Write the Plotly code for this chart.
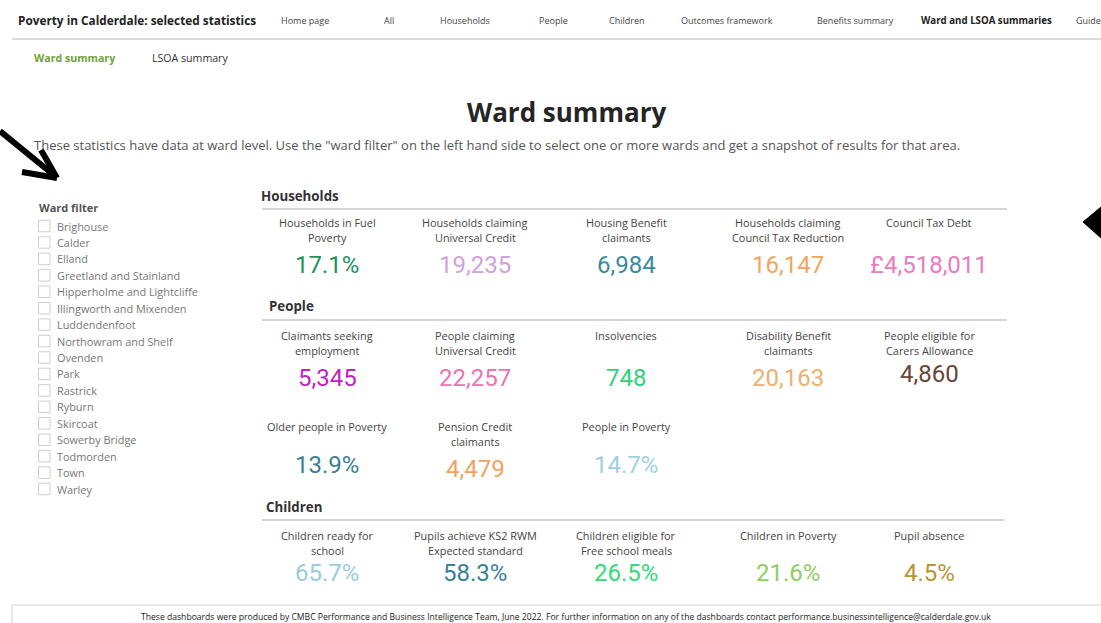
import plotly.graph_objects as go

W, H = 1101, 623

nav_items = ["Home page", "All", "Households", "People", "Children",
             "Outcomes framework", "Benefits summary", "Ward and LSOA summaries"]
nav_x = [305, 389, 465, 553, 627, 727, 855, 986]

wards = ["Brighouse", "Calder", "Elland", "Greetland and Stainland",
         "Hipperholme and Lightcliffe", "Illingworth and Mixenden", "Luddendenfoot",
         "Northowram and Shelf", "Ovenden", "Park", "Rastrick", "Ryburn", "Skircoat",
         "Sowerby Bridge", "Todmorden", "Town", "Warley"]

# KPI cards: label, value, colour
hh_labels = ["Households in Fuel<br>Poverty", "Households claiming<br>Universal Credit",
             "Housing Benefit<br>claimants", "Households claiming<br>Council Tax Reduction",
             "Council Tax Debt"]
hh_values = ["17.1%", "19,235", "6,984", "16,147", "£4,518,011"]
hh_colors = ["#22915a", "#cfa3d9", "#3b8a9c", "#f0a75c", "#e87cc0"]

people_labels = ["Claimants seeking<br>employment", "People claiming<br>Universal Credit",
                 "Insolvencies", "Disability Benefit<br>claimants",
                 "People eligible for<br>Carers Allowance",
                 "Older people in Poverty", "Pension Credit<br>claimants", "People in Poverty"]
people_values = ["5,345", "22,257", "748", "20,163", "4,860", "13.9%", "4,479", "14.7%"]
people_colors = ["#c21fc2", "#ea72b5", "#2fd27a", "#eeb070", "#6a4636",
                 "#3a7f96", "#f0a35e", "#9fd0e1"]

child_labels = ["Children ready for<br>school", "Pupils achieve KS2 RWM<br>Expected standard",
                "Children eligible for<br>Free school meals", "Children in Poverty",
                "Pupil absence"]
child_values = ["65.7%", "58.3%", "26.5%", "21.6%", "4.5%"]
child_colors = ["#9acbde", "#3a7f96", "#2fdc78", "#8ccf5f", "#b8952e"]

col_x = [327, 475, 626, 788, 929]

FONT = "Open Sans"
NUM_FONT = "Roboto"

fig = go.Figure()
ann = []
shapes = []


def text(x, y, s, size, color="#333", bold=False, anchor="left", font=FONT):
    ann.append(dict(x=x, y=y, text=f"<b>{s}</b>" if bold else s, showarrow=False,
                    xanchor=anchor, yanchor="middle",
                    font=dict(family=font, size=size, color=color)))


def hline(x0, x1, y, color="#d6d6d6", width=2):
    shapes.append(dict(type="line", x0=x0, x1=x1, y0=y, y1=y,
                       line=dict(color=color, width=width)))


# header bar
text(16, 20, "Poverty in Calderdale: selected statistics", 11.8, "#222", bold=True)
for name, x in zip(nav_items, nav_x):
    bold = name == "Ward and LSOA summaries"
    text(x, 20, name, 9.7 if bold else 9, "#222" if bold else "#444", bold=bold, anchor="center")
text(1074, 20, "Guide", 9, "#444")  # cut off at the page edge, as in the original
hline(12, W, 39, "#dcdcdc", 2)
text(32, 58, "Ward summary", 10.6, "#6ea23a", bold=True)
text(150, 58, "LSOA summary", 10.6, "#333")

# title and intro
text(566, 112, "Ward summary", 26, "#252525", bold=True, anchor="center")
text(32, 145, "These statistics have data at ward level. Use the \"ward filter\" on the left hand side "
     "to select one or more wards and get a snapshot of results for that area.", 13, "#555")

# ward filter
text(37, 207, "Ward filter", 11, "#555", bold=True)
for i, w in enumerate(wards):
    y = 226 + i * 16.44
    shapes.append(dict(type="rect", x0=38.5, x1=50, y0=y - 5.75, y1=y + 5.75,
                       line=dict(color="#cfcfcf", width=1), fillcolor="white"))
    text(55, y, w, 10.9, "#777")


def section(title, tx, ty, line_y, x1):
    text(tx, ty, title, 13.3, "#333", bold=True)
    hline(262, x1, line_y)


def cards(labels, values, colors, label_y, value_y, cols):
    for lab, val, col, cx, vy in zip(labels, values, colors, cols, value_y):
        for k, part in enumerate(lab.split("<br>")):
            text(cx, label_y + k * 15.5, part, 10.9, "#444", anchor="center")
        text(cx, vy, val, 24, col, anchor="center", font=NUM_FONT)


section("Households", 259, 196, 209, 1007)
cards(hh_labels, hh_values, hh_colors, 222, [265, 265, 265, 265, 265], col_x)

section("People", 267, 306, 320, 1007)
cards(people_labels[:5], people_values[:5], people_colors[:5], 335,
      [378, 378, 378, 378, 374], col_x)
cards(people_labels[5:], people_values[5:], people_colors[5:], 426,
      [465, 469, 465], col_x[:3])

section("Children", 264, 507, 520, 1005)
cards(child_labels, child_values, child_colors, 535, [573] * 5, col_x)

# footer
hline(12, W, 605, "#e2e2e2", 1.5)
shapes.append(dict(type="line", x0=12, x1=12, y0=605, y1=H, line=dict(color="#e2e2e2", width=1.5)))
text(566, 617, "These dashboards were produced by CMBC Performance and Business Intelligence Team, "
     "June 2022. For further information on any of the dashboards contact "
     "performance.businessintelligence@calderdale.gov.uk", 8.6, "#222", anchor="center")

# hand-drawn arrows
for path in ["M 0 131 L 55 176", "M 41 150 L 57 178", "M 22 172 L 57 178"]:
    shapes.append(dict(type="path", path=path, line=dict(color="black", width=6)))
shapes.append(dict(type="path", path="M 1083 222 L 1101 207 L 1101 238 Z",
                   fillcolor="black", line=dict(color="black", width=1)))

fig.update_layout(
    width=W, height=H,
    margin=dict(l=0, r=0, t=0, b=0),
    paper_bgcolor="white", plot_bgcolor="white",
    xaxis=dict(range=[0, W], visible=False, fixedrange=True),
    yaxis=dict(range=[H, 0], visible=False, fixedrange=True),
    annotations=ann, shapes=shapes, showlegend=False,
)

fig.write_html("out.html", config=dict(displayModeBar=False),
               post_script="document.body.style.margin='0';document.body.style.overflow='hidden';")
